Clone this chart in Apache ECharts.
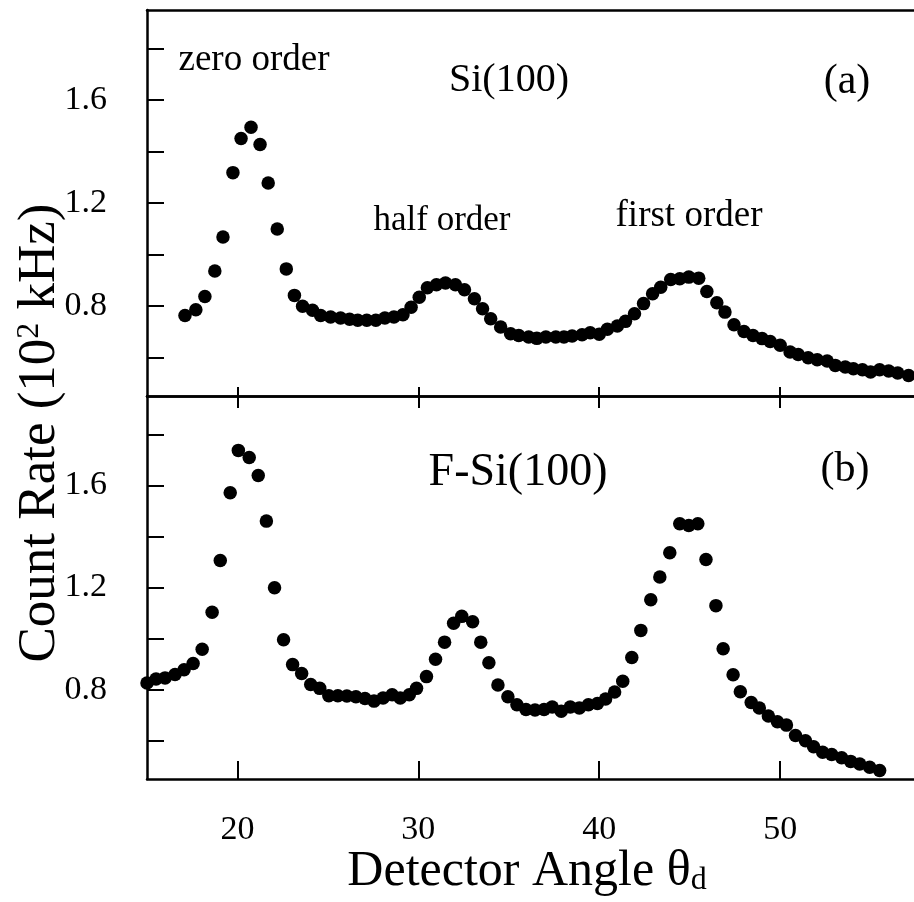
<!DOCTYPE html>
<html>
<head>
<meta charset="utf-8">
<script src="https://cdn.jsdelivr.net/npm/echarts@6/dist/echarts.min.js"></script>
<style>
html,body{margin:0;padding:0;background:#fff;}
#chart{width:914px;height:902px;}
</style>
</head>
<body>
<div id="chart"></div>
<script>
// Panel (a): Si(100)
var angleA = [17.1,17.7,18.2,18.75,19.2,19.75,20.2,20.75,21.25,21.7,22.2,22.7,23.15,23.6,24.15,24.6,25.15,25.7,26.2,26.65,27.15,27.65,28.15,28.65,29.15,29.6,30.05,30.5,31.0,31.5,32.05,32.55,33.1,33.55,34.0,34.55,35.1,35.55,36.1,36.55,37.05,37.6,38.05,38.5,39.05,39.5,40.0,40.45,41.0,41.45,41.95,42.45,42.95,43.4,43.95,44.45,44.95,45.5,45.95,46.5,46.95,47.45,48.0,48.5,49.0,49.45,50.0,50.55,51.0,51.55,52.05,52.6,53.05,53.6,54.05,54.55,55.0,55.5,56.0,56.5,57.1];
var rateA = [0.763,0.785,0.837,0.936,1.068,1.318,1.451,1.494,1.427,1.278,1.099,0.944,0.841,0.799,0.783,0.763,0.757,0.753,0.748,0.744,0.744,0.744,0.753,0.757,0.766,0.795,0.834,0.871,0.882,0.889,0.882,0.863,0.828,0.789,0.750,0.718,0.692,0.685,0.679,0.674,0.679,0.679,0.679,0.683,0.688,0.696,0.690,0.709,0.722,0.740,0.770,0.809,0.847,0.873,0.903,0.906,0.912,0.908,0.856,0.812,0.776,0.727,0.701,0.685,0.673,0.662,0.647,0.621,0.611,0.599,0.591,0.586,0.569,0.563,0.556,0.552,0.543,0.552,0.547,0.539,0.530];

// Panel (b): F-Si(100)
var angleB = [15.0,15.5,16.0,16.55,17.05,17.55,18.05,18.6,19.05,19.6,20.05,20.65,21.15,21.6,22.05,22.55,23.05,23.55,24.05,24.55,25.05,25.55,26.05,26.55,27.05,27.55,28.05,28.55,29.0,29.5,29.9,30.45,30.95,31.45,31.95,32.4,33.0,33.45,33.9,34.4,34.95,35.45,35.95,36.45,36.95,37.4,37.9,38.4,38.9,39.4,39.9,40.35,40.85,41.3,41.8,42.3,42.85,43.35,43.9,44.45,44.95,45.45,45.9,46.45,46.85,47.4,47.8,48.4,48.85,49.35,49.85,50.35,50.85,51.4,51.85,52.35,52.85,53.4,53.9,54.4,54.95,55.5];
var rateB = [0.826,0.842,0.846,0.859,0.878,0.902,0.958,1.103,1.306,1.571,1.737,1.709,1.639,1.460,1.199,0.995,0.898,0.863,0.820,0.805,0.776,0.776,0.775,0.772,0.765,0.755,0.767,0.780,0.767,0.780,0.805,0.851,0.919,0.986,1.060,1.087,1.066,0.986,0.905,0.818,0.772,0.741,0.722,0.720,0.722,0.732,0.715,0.732,0.728,0.741,0.746,0.763,0.791,0.833,0.926,1.032,1.152,1.241,1.336,1.450,1.443,1.450,1.310,1.129,0.960,0.858,0.792,0.750,0.728,0.697,0.674,0.661,0.620,0.600,0.576,0.555,0.546,0.533,0.519,0.509,0.496,0.483];

// Tick values and labels
var xTicks = [20, 30, 40, 50];
var yTicks = [0.6, 0.8, 1.0, 1.2, 1.4, 1.6, 1.8];
var yLabels = [0.8, 1.2, 1.6];
var panelLabels = ['Si(100)', 'F-Si(100)'];
var letters = ['(a)', '(b)'];
var peakNames = ['zero order', 'half order', 'first order'];

function zip(xs, ys) { return xs.map(function (x, i) { return [x, ys[i]]; }); }

var FONT = '"Liberation Serif", "DejaVu Serif", serif';
var lineStyle = { color: '#000', width: 2.5 };
var X_MIN = 15, X_MAX = 57.4, Y_MIN = 0.45, Y_MAX = 1.95;

function xAxisDef(grid, pos, tickLen, showTicks, showLabels) {
  return {
    type: 'value', gridIndex: grid, position: pos, min: X_MIN, max: X_MAX,
    axisLine: { show: true, onZero: false, lineStyle: lineStyle },
    axisTick: { show: showTicks, inside: true, length: tickLen, customValues: xTicks, lineStyle: { color: '#000', width: 2 } },
    axisLabel: { show: showLabels, customValues: xTicks, margin: 34, color: '#000', fontFamily: FONT, fontSize: 34 },
    splitLine: { show: false }
  };
}
function yAxisDef(grid) {
  return {
    type: 'value', gridIndex: grid, min: Y_MIN, max: Y_MAX,
    axisLine: { show: true, onZero: false, lineStyle: lineStyle },
    axisTick: { show: true, inside: true, length: 17, customValues: yTicks, lineStyle: { color: '#000', width: 2 } },
    axisLabel: { show: true, customValues: yLabels, margin: 40, color: '#000', fontFamily: FONT, fontSize: 34,
      formatter: function (v) { return v.toFixed(1); } },
    splitLine: { show: false }
  };
}
function txt(text, x, y, size, rich) {
  var st = { text: text, x: 0, y: 0, fill: '#000', fontFamily: FONT, fontSize: size, align: 'center', verticalAlign: 'middle' };
  if (rich) st.rich = rich;
  return { type: 'text', x: x, y: y, style: st, z: 100 };
}

var chart = echarts.init(document.getElementById('chart'), null, { renderer: 'canvas' });
chart.setOption({
  animation: false,
  backgroundColor: '#fff',
  grid: [
    { left: 147, right: 0, top: 10, height: 386 },
    { left: 147, right: 0, top: 396, height: 383 }
  ],
  xAxis: [
    xAxisDef(0, 'bottom', 9, true, false),
    xAxisDef(1, 'bottom', 18, true, true),
    xAxisDef(0, 'top', 0, false, false),
    xAxisDef(1, 'top', 12, true, false)
  ],
  yAxis: [yAxisDef(0), yAxisDef(1)],
  series: [
    { type: 'scatter', xAxisIndex: 0, yAxisIndex: 0, data: zip(angleA, rateA), symbol: 'circle', symbolSize: 13.5, itemStyle: { color: '#000', opacity: 1 } },
    { type: 'scatter', xAxisIndex: 1, yAxisIndex: 1, data: zip(angleB, rateB), symbol: 'circle', symbolSize: 13.5, itemStyle: { color: '#000', opacity: 1 } }
  ],
  graphic: [
    txt(peakNames[0], 254, 60, 37),
    txt(panelLabels[0], 509, 80, 40),
    txt(letters[0], 847, 82, 42),
    txt(peakNames[1], 442, 221, 35),
    txt(peakNames[2], 689, 216, 37),
    txt(panelLabels[1], 518, 473, 46),
    txt(letters[1], 845, 470, 42),
    txt('Detector Angle θ{sub|d}', 527, 872, 50, {
      sub: { fontFamily: FONT, fontSize: 32, verticalAlign: 'bottom', lineHeight: 22, fill: '#000' }
    }),
    (function () {
      var g = txt('Count Rate (10{sup|2} kHz)', 40, 433, 53, {
        sup: { fontFamily: FONT, fontSize: 32, verticalAlign: 'top', lineHeight: 30, fill: '#000' }
      });
      g.rotation = Math.PI / 2;
      return g;
    })()
  ]
});
</script>
</body>
</html>
